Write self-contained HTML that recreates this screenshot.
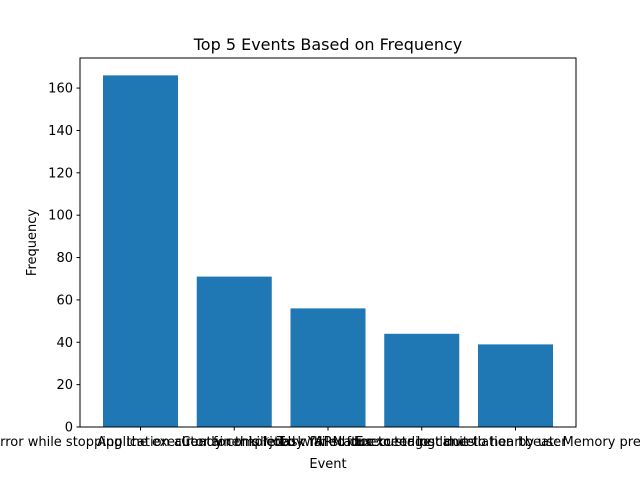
<!DOCTYPE html>
<html><head><meta charset="utf-8"><style>
html,body{margin:0;padding:0;background:#fff}
svg{display:block;font-family:"DejaVu Sans","Liberation Sans",sans-serif}
</style></head><body>
<svg id="chart" width="640" height="480" viewBox="0 0 640 480" xmlns="http://www.w3.org/2000/svg">
<rect width="640" height="480" fill="#fff"/>
<text x="328" y="50" text-anchor="middle" font-size="16">Top 5 Events Based on Frequency</text>
<g id="bars"></g>
<g id="yticks"></g>
<g id="xticks"></g>
<rect x="80" y="58" width="496" height="369" fill="none" stroke="#000" stroke-width="1"/>
<text x="328" y="468" text-anchor="middle" font-size="13">Event</text>
<text transform="translate(36,242.5) rotate(-90)" text-anchor="middle" font-size="13">Frequency</text>
</svg>
<script>
const categories = ["Error while stopping the executor for this *job","Application already completed with status","Container killed by YARN for exceeding limits","Task failed due to stage cancellation by user","Executor lost due to heartbeat: Memory pressure"];
const values = [166, 71, 56, 44, 39];
const yTicks = [0, 20, 40, 60, 80, 100, 120, 140, 160];
const NS = "http://www.w3.org/2000/svg";
const L = 80, R = 576, T = 58, B = 427, yMax = 174.2;
function xPos(i){ return 140.5 + 93.75 * i; }
const bw = 75;
function yPos(v){ return B - (B - T) * v / yMax; }
const gb = document.getElementById('bars');
values.forEach((v, i) => {
  const r = document.createElementNS(NS, 'rect');
  
  
  r.setAttribute('x', xPos(i) - bw / 2);
  r.setAttribute('y', yPos(v));
  r.setAttribute('width', bw);
  r.setAttribute('height', B - yPos(v));
  r.setAttribute('fill', '#1f77b4');
  gb.appendChild(r);
});
const gy = document.getElementById('yticks');
yTicks.forEach(t => {
  const y = yPos(t);
  const l = document.createElementNS(NS, 'line');
  
  
  l.setAttribute('x1', L - 3.5); l.setAttribute('x2', L);
  l.setAttribute('y1', y); l.setAttribute('y2', y);
  l.setAttribute('stroke', '#000');
  gy.appendChild(l);
  const tx = document.createElementNS(NS, 'text');
  
  
  tx.setAttribute('x', L - 7); tx.setAttribute('y', y + 4.5);
  tx.setAttribute('text-anchor', 'end'); tx.setAttribute('font-size', '13');
  tx.textContent = t;
  gy.appendChild(tx);
});
const gx = document.getElementById('xticks');
categories.forEach((c, i) => {
  const x = xPos(i);
  const l = document.createElementNS(NS, 'line');
  
  
  l.setAttribute('x1', x); l.setAttribute('x2', x);
  l.setAttribute('y1', B); l.setAttribute('y2', B + 3.5);
  l.setAttribute('stroke', '#000');
  gx.appendChild(l);
  const tx = document.createElementNS(NS, 'text');
  
  
  tx.setAttribute('x', x); tx.setAttribute('y', B + 19);
  tx.setAttribute('text-anchor', 'middle'); tx.setAttribute('font-size', '13');
  tx.textContent = c;
  gx.appendChild(tx);
});
</script>
</body></html>
